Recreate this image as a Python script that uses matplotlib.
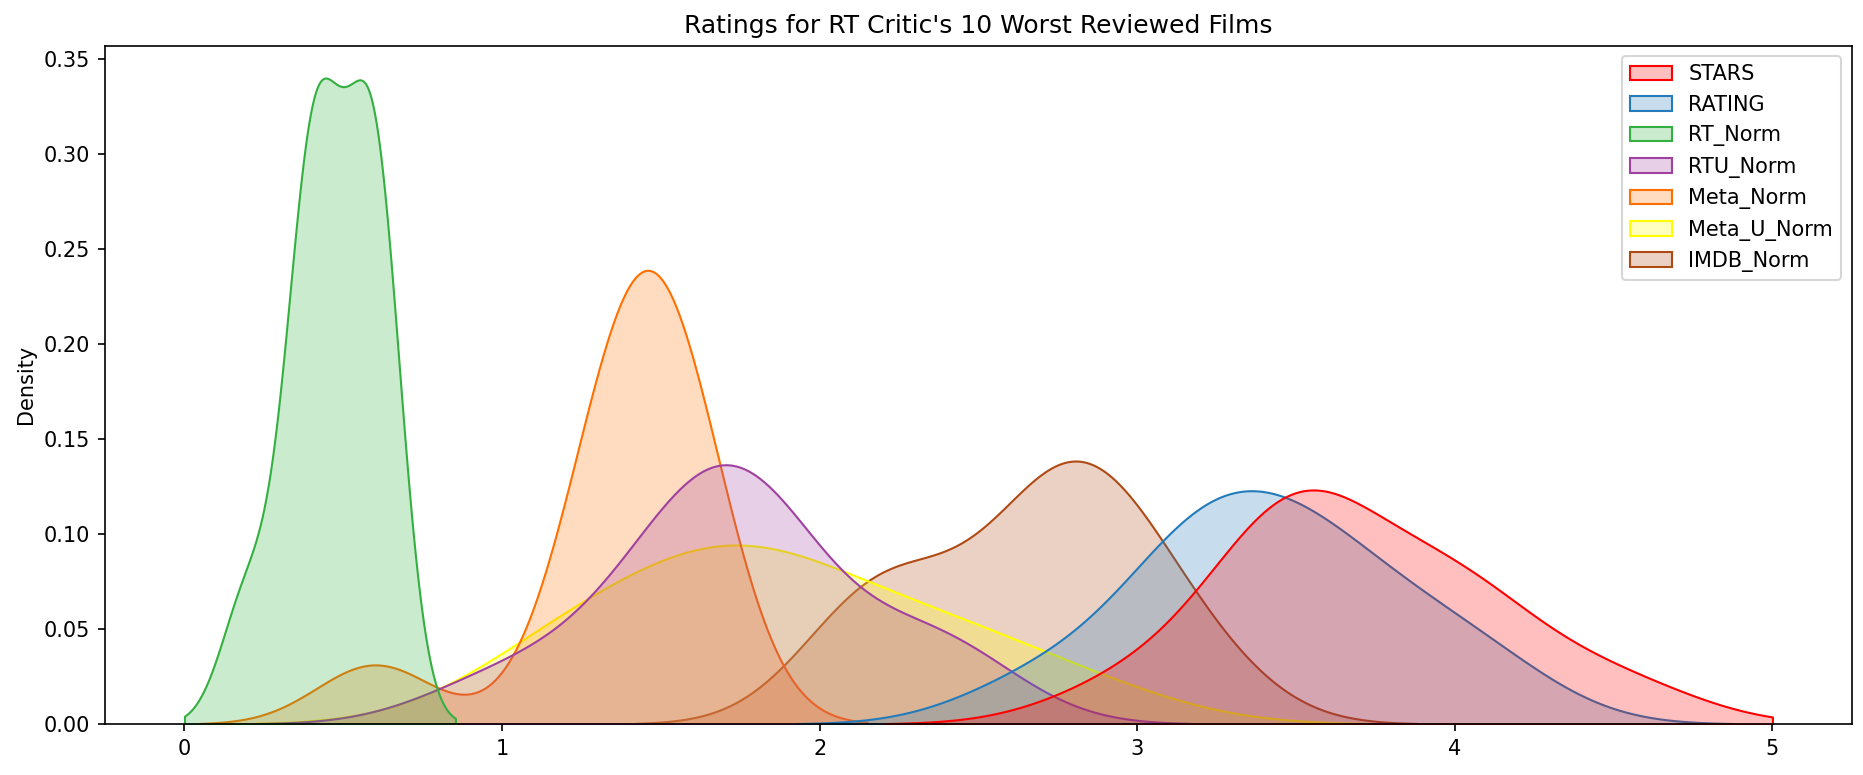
import matplotlib
matplotlib.use("Agg")
import matplotlib.pyplot as plt
import pandas as pd
import seaborn as sns

# 10 films with the lowest RT critic scores, all scores on a 0-5 scale
films = ["Paul Blart: Mall Cop 2", "Hitman: Agent 47", "Hot Pursuit", "Fantastic Four",
         "Taken 3", "The Boy Next Door", "The Loft", "Unfinished Business",
         "Mortdecai", "Seventh Son"]
stars = [3.5, 4.0, 4.0, 3.0, 4.5, 4.0, 3.5, 3.5, 3.5, 3.5]
rating = [3.5, 3.9, 3.6, 2.7, 4.1, 3.6, 3.3, 3.2, 3.2, 3.1]
rt_norm = [0.2, 0.4, 0.4, 0.4, 0.4, 0.5, 0.6, 0.6, 0.6, 0.6]
rtu_norm = [1.8, 2.4, 1.8, 1.0, 2.3, 1.7, 1.8, 1.4, 1.5, 1.7]
meta_norm = [0.6, 1.4, 1.6, 1.5, 1.3, 1.5, 1.3, 1.6, 1.4, 1.5]
meta_u_norm = [1.2, 1.6, 1.8, 1.2, 2.3, 2.8, 1.8, 2.4, 1.6, 2.0]
imdb_norm = [2.2, 3.0, 2.6, 2.1, 2.9, 2.3, 3.2, 2.7, 2.8, 2.8]

colors = ["#ff0000", "#237bbb", "#33b040", "#a040a0", "#ff7000", "#ffff00", "#b04a14"]

worst = pd.DataFrame({
    "STARS": stars,
    "RATING": rating,
    "RT_Norm": rt_norm,
    "RTU_Norm": rtu_norm,
    "Meta_Norm": meta_norm,
    "Meta_U_Norm": meta_u_norm,
    "IMDB_Norm": imdb_norm,
}, index=films)

fig = plt.figure(figsize=(1863 / 150, 775 / 150), dpi=150)
ax = fig.add_subplot(111)
fig.subplots_adjust(left=0.0564, right=0.994, bottom=0.0658, top=0.941)

sns.kdeplot(data=worst, clip=[0, 5], fill=True, palette=colors, ax=ax)
ax.set_title("Ratings for RT Critic's 10 Worst Reviewed Films")
ax.set_ylabel("Density")

sns.move_legend(ax, "upper right")
fig.savefig("out.png", dpi=150)
